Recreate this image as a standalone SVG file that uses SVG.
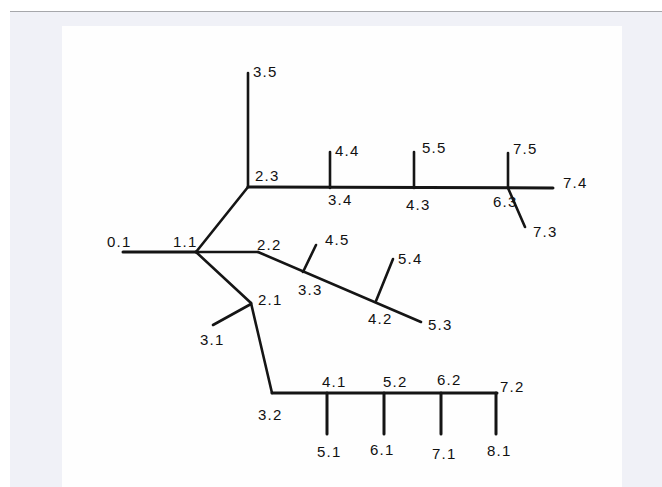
<svg xmlns="http://www.w3.org/2000/svg" width="662" height="487" viewBox="0 0 662 487">
<style>
.bg{fill:#f0f1f7}
.panel{fill:#fefefe}
.e{stroke:#151515;stroke-width:2.6;stroke-linecap:round;fill:none}
.h{stroke-width:3}
text{font-family:"Liberation Sans",Arial,sans-serif;font-size:15px;fill:#111;letter-spacing:1.2px}
</style>
<rect class="bg" x="10" y="11" width="652" height="476"/>
<line x1="10" y1="11.5" x2="662" y2="11.5" stroke="#a6a7ab" stroke-width="1.2"/>
<rect class="panel" x="62" y="26" width="560" height="461"/>
<g id="connectors">
<line class="e h" x1="123" y1="252" x2="196" y2="252"/>
<line class="e" x1="196" y1="252" x2="258" y2="252"/>
<line class="e" x1="196" y1="252" x2="248" y2="187"/>
<line class="e" x1="248" y1="73" x2="248" y2="187"/>
<line class="e h" x1="248" y1="187" x2="553" y2="188"/>
<line class="e" x1="330" y1="152" x2="330" y2="188"/>
<line class="e" x1="414" y1="152" x2="414" y2="188"/>
<line class="e" x1="508" y1="153" x2="508" y2="188"/>
<line class="e" x1="508" y1="188" x2="525" y2="227"/>
<line class="e" x1="258" y1="252" x2="421" y2="322"/>
<line class="e" x1="303" y1="272" x2="316" y2="245"/>
<line class="e" x1="376" y1="301" x2="393" y2="259"/>
<line class="e" x1="196" y1="252" x2="251" y2="303"/>
<line class="e" x1="251" y1="304" x2="213" y2="325"/>
<line class="e" x1="251" y1="303" x2="272" y2="393"/>
<line class="e h" x1="272" y1="393" x2="497" y2="393"/>
<line class="e h" x1="327" y1="393" x2="327" y2="434"/>
<line class="e h" x1="384" y1="393" x2="384" y2="434"/>
<line class="e h" x1="441" y1="393" x2="441" y2="434"/>
<line class="e h" x1="496" y1="393" x2="496" y2="434"/>
</g>
<g id="n01"><text x="107" y="247">0.1</text></g>
<g id="n11"><text x="173" y="247">1.1</text></g>
<g id="n21"><text x="258" y="305">2.1</text></g>
<g id="n22"><text x="257" y="250">2.2</text></g>
<g id="n23"><text x="255" y="181">2.3</text></g>
<g id="n31"><text x="200" y="345">3.1</text></g>
<g id="n32"><text x="258" y="420">3.2</text></g>
<g id="n33"><text x="298" y="295">3.3</text></g>
<g id="n34"><text x="328" y="205">3.4</text></g>
<g id="n35"><text x="253" y="77">3.5</text></g>
<g id="n41"><text x="322" y="387">4.1</text></g>
<g id="n42"><text x="368" y="324">4.2</text></g>
<g id="n43"><text x="406" y="210">4.3</text></g>
<g id="n44"><text x="335" y="156">4.4</text></g>
<g id="n45"><text x="325" y="245">4.5</text></g>
<g id="n51"><text x="317" y="457">5.1</text></g>
<g id="n52"><text x="383" y="387">5.2</text></g>
<g id="n53"><text x="428" y="330">5.3</text></g>
<g id="n54"><text x="398" y="264">5.4</text></g>
<g id="n55"><text x="422" y="153">5.5</text></g>
<g id="n61"><text x="370" y="455">6.1</text></g>
<g id="n62"><text x="437" y="385">6.2</text></g>
<g id="n63"><text x="493" y="207">6.3</text></g>
<g id="n71"><text x="432" y="459">7.1</text></g>
<g id="n72"><text x="500" y="392">7.2</text></g>
<g id="n73"><text x="533" y="237">7.3</text></g>
<g id="n74"><text x="563" y="188">7.4</text></g>
<g id="n75"><text x="513" y="154">7.5</text></g>
<g id="n81"><text x="487" y="456">8.1</text></g>
</svg>
